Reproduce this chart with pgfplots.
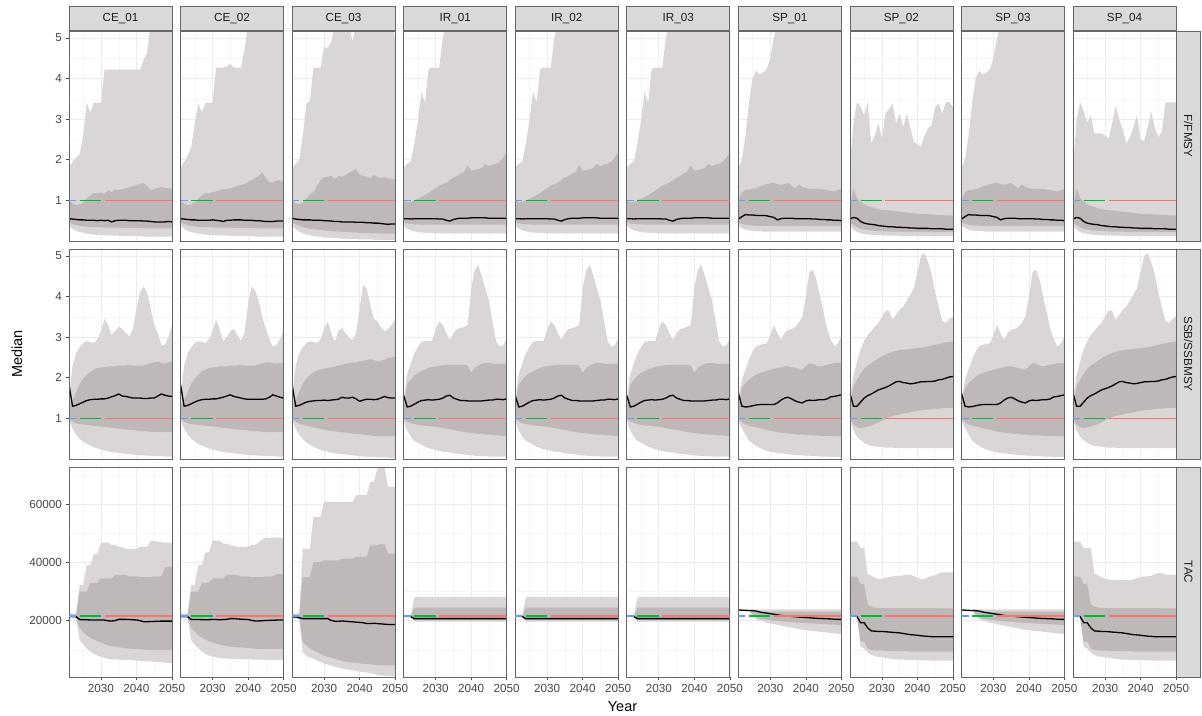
\documentclass[border=0pt]{standalone}
\usepackage{pgfplots}
\pgfplotsset{compat=1.18}
\usepackage{pgfplotstable}
\usepgfplotslibrary{fillbetween}
\usepackage{fontspec}
\setmainfont{Liberation Sans}

\definecolor{lightband}{RGB}{218,214,214}
\definecolor{darkband}{RGB}{191,184,184}
\definecolor{refred}{HTML}{F8766D}
\definecolor{refgreen}{HTML}{00BA38}
\definecolor{refblue}{HTML}{619CFF}
\definecolor{stripfill}{HTML}{D9D9D9}
\definecolor{frm}{HTML}{666666}

% ---------------- F/FMSY ----------------
\pgfplotstableread{
yr ol il md iu ou
2021 0.38 0.46 0.55 1.00 1.80
2022 0.30 0.42 0.54 0.92 1.95
2023 0.25 0.39 0.53 0.88 2.05
2024 0.22 0.37 0.52 0.90 2.14
2025 0.20 0.36 0.52 0.95 2.60
2026 0.18 0.35 0.51 1.05 3.41
2027 0.17 0.35 0.51 1.12 3.15
2028 0.16 0.34 0.51 1.18 3.40
2029 0.15 0.34 0.50 1.17 3.40
2030 0.15 0.34 0.51 1.20 3.40
2031 0.14 0.33 0.50 1.15 4.22
2032 0.14 0.33 0.51 1.25 4.22
2033 0.13 0.33 0.47 1.20 4.22
2034 0.13 0.33 0.50 1.27 4.22
2035 0.13 0.33 0.51 1.25 4.22
2036 0.12 0.32 0.51 1.28 4.22
2037 0.12 0.32 0.51 1.30 4.22
2038 0.12 0.32 0.50 1.32 4.22
2039 0.12 0.32 0.50 1.35 4.22
2040 0.12 0.32 0.50 1.38 4.22
2041 0.12 0.32 0.50 1.40 4.22
2042 0.11 0.32 0.49 1.43 4.45
2043 0.11 0.31 0.49 1.35 4.65
2044 0.11 0.31 0.48 1.25 5.34
2045 0.11 0.31 0.47 1.28 5.34
2046 0.11 0.31 0.47 1.30 5.34
2047 0.11 0.31 0.47 1.33 5.34
2048 0.11 0.31 0.47 1.30 5.34
2049 0.11 0.31 0.48 1.30 5.34
2050 0.11 0.31 0.47 1.28 5.34
}\FCEa
\pgfplotstableread{
yr ol il md iu ou
2021 0.38 0.46 0.55 1.00 1.80
2022 0.30 0.42 0.54 0.92 1.95
2023 0.25 0.39 0.53 0.88 2.10
2024 0.22 0.37 0.52 0.90 2.30
2025 0.20 0.36 0.52 0.95 2.90
2026 0.18 0.35 0.51 1.05 3.38
2027 0.17 0.35 0.51 1.12 3.17
2028 0.16 0.34 0.51 1.18 3.40
2029 0.15 0.34 0.51 1.17 3.40
2030 0.15 0.34 0.52 1.20 3.40
2031 0.14 0.33 0.51 1.22 4.27
2032 0.14 0.33 0.50 1.25 4.27
2033 0.13 0.33 0.48 1.28 4.27
2034 0.13 0.33 0.51 1.27 4.30
2035 0.13 0.33 0.51 1.30 4.36
2036 0.12 0.32 0.52 1.32 4.27
2037 0.12 0.32 0.52 1.35 4.27
2038 0.12 0.32 0.52 1.38 4.27
2039 0.12 0.32 0.51 1.40 4.70
2040 0.12 0.32 0.51 1.45 5.34
2041 0.12 0.32 0.51 1.50 5.34
2042 0.11 0.32 0.50 1.55 5.34
2043 0.11 0.31 0.50 1.60 5.34
2044 0.11 0.31 0.49 1.69 5.34
2045 0.11 0.31 0.48 1.55 5.34
2046 0.11 0.31 0.48 1.45 5.34
2047 0.11 0.31 0.48 1.43 5.34
2048 0.11 0.31 0.49 1.49 5.34
2049 0.11 0.31 0.49 1.49 5.34
2050 0.11 0.31 0.49 1.48 5.34
}\FCEb
\pgfplotstableread{
yr ol il md iu ou
2021 0.38 0.46 0.56 1.00 1.81
2022 0.29 0.41 0.54 0.92 1.90
2023 0.23 0.37 0.53 0.90 2.00
2024 0.19 0.34 0.52 0.95 2.60
2025 0.16 0.32 0.52 1.05 3.38
2026 0.14 0.30 0.52 1.15 3.45
2027 0.12 0.29 0.51 1.20 4.27
2028 0.11 0.28 0.51 1.35 4.27
2029 0.10 0.27 0.51 1.50 4.27
2030 0.09 0.26 0.50 1.56 4.78
2031 0.08 0.25 0.50 1.58 4.75
2032 0.08 0.25 0.49 1.60 4.90
2033 0.07 0.24 0.48 1.52 5.34
2034 0.07 0.23 0.48 1.60 5.34
2035 0.06 0.23 0.47 1.58 5.34
2036 0.06 0.22 0.47 1.62 5.10
2037 0.05 0.22 0.47 1.68 5.34
2038 0.05 0.21 0.47 1.72 4.90
2039 0.05 0.21 0.46 1.77 5.34
2040 0.04 0.20 0.46 1.64 5.34
2041 0.04 0.20 0.46 1.60 5.34
2042 0.04 0.20 0.45 1.58 5.34
2043 0.04 0.19 0.45 1.56 5.34
2044 0.03 0.19 0.44 1.62 5.34
2045 0.03 0.19 0.44 1.58 5.34
2046 0.03 0.18 0.43 1.55 5.34
2047 0.03 0.18 0.42 1.57 5.34
2048 0.03 0.18 0.41 1.54 5.34
2049 0.03 0.18 0.42 1.53 5.34
2050 0.03 0.18 0.42 1.52 5.00
}\FCEc
\pgfplotstableread{
yr ol il md iu ou
2021 0.38 0.46 0.55 1.00 1.81
2022 0.30 0.43 0.55 0.95 1.90
2023 0.26 0.42 0.54 0.96 1.96
2024 0.24 0.41 0.55 1.00 2.40
2025 0.22 0.41 0.55 1.04 2.96
2026 0.21 0.40 0.55 1.08 3.68
2027 0.20 0.40 0.55 1.13 3.40
2028 0.20 0.40 0.55 1.18 4.23
2029 0.20 0.40 0.55 1.24 4.27
2030 0.19 0.40 0.55 1.30 4.27
2031 0.19 0.40 0.54 1.36 4.27
2032 0.19 0.40 0.54 1.40 5.00
2033 0.19 0.40 0.51 1.43 5.34
2034 0.19 0.40 0.49 1.50 5.34
2035 0.19 0.40 0.53 1.56 5.34
2036 0.19 0.40 0.55 1.60 5.34
2037 0.19 0.40 0.56 1.66 5.34
2038 0.19 0.40 0.56 1.70 5.34
2039 0.19 0.40 0.56 1.86 5.34
2040 0.19 0.40 0.57 1.73 5.34
2041 0.19 0.40 0.57 1.75 5.34
2042 0.19 0.40 0.57 1.77 5.34
2043 0.19 0.40 0.57 1.80 5.34
2044 0.19 0.40 0.57 1.90 5.34
2045 0.19 0.40 0.56 1.84 5.34
2046 0.19 0.40 0.56 1.88 5.34
2047 0.19 0.40 0.56 1.90 5.34
2048 0.19 0.40 0.56 1.95 5.34
2049 0.19 0.40 0.56 2.05 5.34
2050 0.19 0.40 0.56 2.19 5.34
}\FIR
\pgfplotstableread{
yr ol il md iu ou
2021 0.38 0.45 0.54 1.00 1.81
2022 0.32 0.42 0.60 1.20 2.00
2023 0.28 0.40 0.65 1.25 2.60
2024 0.26 0.39 0.64 1.26 3.40
2025 0.25 0.38 0.64 1.28 4.00
2026 0.24 0.38 0.63 1.30 4.19
2027 0.24 0.37 0.63 1.35 4.10
2028 0.23 0.37 0.63 1.37 4.15
2029 0.23 0.37 0.62 1.40 4.23
2030 0.23 0.37 0.60 1.42 4.50
2031 0.23 0.37 0.58 1.43 5.00
2032 0.23 0.37 0.52 1.40 5.34
2033 0.23 0.37 0.55 1.38 5.34
2034 0.23 0.37 0.56 1.40 5.34
2035 0.23 0.37 0.56 1.43 5.34
2036 0.23 0.37 0.56 1.35 5.34
2037 0.23 0.37 0.55 1.30 5.34
2038 0.23 0.37 0.55 1.39 5.34
2039 0.23 0.37 0.55 1.33 5.34
2040 0.23 0.37 0.55 1.30 5.34
2041 0.23 0.37 0.55 1.28 5.34
2042 0.23 0.37 0.54 1.28 5.34
2043 0.23 0.37 0.54 1.28 5.34
2044 0.23 0.37 0.53 1.28 5.34
2045 0.23 0.37 0.53 1.27 5.34
2046 0.23 0.37 0.52 1.25 5.34
2047 0.23 0.37 0.52 1.24 5.34
2048 0.23 0.37 0.51 1.22 5.34
2049 0.23 0.37 0.51 1.25 5.34
2050 0.23 0.37 0.50 1.28 5.34
}\FSPa
\pgfplotstableread{
yr ol il md iu ou
2021 0.38 0.45 0.54 0.80 1.86
2022 0.28 0.40 0.58 1.30 2.90
2023 0.22 0.34 0.56 1.05 3.42
2024 0.19 0.30 0.48 0.97 3.30
2025 0.17 0.28 0.44 0.90 3.10
2026 0.16 0.27 0.42 0.86 3.42
2027 0.15 0.26 0.41 0.84 2.40
2028 0.15 0.25 0.40 0.80 2.60
2029 0.14 0.25 0.38 0.78 2.91
2030 0.14 0.24 0.37 0.77 2.53
2031 0.13 0.24 0.36 0.76 3.13
2032 0.13 0.23 0.35 0.75 3.25
2033 0.13 0.23 0.35 0.74 3.38
2034 0.13 0.23 0.34 0.73 2.90
2035 0.13 0.23 0.34 0.72 3.13
2036 0.12 0.22 0.33 0.71 2.80
2037 0.12 0.22 0.33 0.70 3.13
2038 0.12 0.22 0.32 0.69 2.80
2039 0.12 0.22 0.32 0.68 2.45
2040 0.12 0.22 0.31 0.67 2.38
2041 0.12 0.22 0.31 0.67 2.32
2042 0.12 0.22 0.31 0.66 2.60
2043 0.12 0.22 0.31 0.66 2.78
2044 0.12 0.22 0.30 0.65 2.85
2045 0.12 0.22 0.30 0.65 3.30
2046 0.12 0.22 0.30 0.64 3.38
2047 0.12 0.22 0.30 0.64 3.13
2048 0.12 0.22 0.29 0.63 3.42
2049 0.12 0.22 0.29 0.63 3.42
2050 0.12 0.22 0.29 0.63 3.30
}\FSPb
\pgfplotstableread{
yr ol il md iu ou
2021 0.38 0.45 0.54 0.80 1.80
2022 0.28 0.40 0.58 1.30 3.00
2023 0.22 0.34 0.56 1.05 3.41
2024 0.19 0.30 0.48 0.97 3.20
2025 0.17 0.28 0.44 0.90 2.90
2026 0.16 0.27 0.42 0.86 3.10
2027 0.15 0.26 0.41 0.84 2.65
2028 0.15 0.25 0.40 0.80 2.65
2029 0.14 0.25 0.38 0.78 2.65
2030 0.14 0.24 0.37 0.77 2.60
2031 0.13 0.24 0.36 0.76 2.52
2032 0.13 0.23 0.35 0.75 2.90
2033 0.13 0.23 0.35 0.74 3.33
2034 0.13 0.23 0.34 0.73 3.00
2035 0.13 0.23 0.34 0.72 2.75
2036 0.12 0.22 0.33 0.71 2.40
2037 0.12 0.22 0.33 0.70 2.55
2038 0.12 0.22 0.32 0.69 2.80
2039 0.12 0.22 0.32 0.68 3.10
2040 0.12 0.22 0.31 0.67 2.50
2041 0.12 0.22 0.31 0.67 2.45
2042 0.12 0.22 0.31 0.66 2.80
2043 0.12 0.22 0.31 0.66 3.20
2044 0.12 0.22 0.30 0.65 2.80
2045 0.12 0.22 0.30 0.65 2.55
2046 0.12 0.22 0.30 0.64 2.70
2047 0.12 0.22 0.30 0.64 3.41
2048 0.12 0.22 0.29 0.63 3.41
2049 0.12 0.22 0.29 0.63 3.41
2050 0.12 0.22 0.29 0.63 3.41
}\FSPd

% ---------------- SSB/SSBMSY ----------------
\pgfplotstableread{
yr ol il md iu ou
2021 0.95 1.00 1.83 1.30 1.50
2022 0.75 0.92 1.30 1.45 2.30
2023 0.60 0.88 1.32 1.65 2.60
2024 0.50 0.86 1.36 1.85 2.75
2025 0.43 0.85 1.40 1.98 2.85
2026 0.37 0.84 1.44 2.07 2.90
2027 0.33 0.83 1.46 2.15 2.88
2028 0.29 0.82 1.47 2.20 2.85
2029 0.26 0.81 1.47 2.24 2.95
2030 0.23 0.80 1.48 2.25 3.15
2031 0.21 0.79 1.48 2.26 3.45
2032 0.19 0.78 1.50 2.28 3.30
2033 0.17 0.77 1.53 2.28 3.05
2034 0.16 0.76 1.56 2.28 3.15
2035 0.15 0.75 1.60 2.30 3.25
2036 0.14 0.74 1.55 2.30 3.20
2037 0.13 0.73 1.54 2.30 3.10
2038 0.12 0.72 1.52 2.32 3.02
2039 0.11 0.71 1.50 2.30 3.20
2040 0.10 0.70 1.50 2.30 3.70
2041 0.09 0.69 1.50 2.30 4.10
2042 0.09 0.68 1.49 2.30 4.25
2043 0.08 0.68 1.49 2.33 4.10
2044 0.08 0.67 1.50 2.36 3.70
2045 0.07 0.67 1.50 2.38 3.30
2046 0.07 0.66 1.55 2.40 3.10
2047 0.07 0.66 1.60 2.36 2.81
2048 0.06 0.66 1.57 2.35 2.81
2049 0.06 0.66 1.55 2.38 3.00
2050 0.06 0.66 1.54 2.40 3.30
}\SCEa
\pgfplotstableread{
yr ol il md iu ou
2021 0.95 1.00 1.83 1.30 1.50
2022 0.75 0.92 1.30 1.45 2.30
2023 0.60 0.88 1.32 1.65 2.60
2024 0.50 0.86 1.36 1.85 2.75
2025 0.43 0.85 1.40 1.98 2.85
2026 0.37 0.84 1.44 2.07 2.90
2027 0.33 0.83 1.46 2.15 2.88
2028 0.29 0.82 1.47 2.20 2.85
2029 0.26 0.81 1.47 2.24 2.95
2030 0.23 0.80 1.48 2.25 3.15
2031 0.21 0.79 1.48 2.26 3.43
2032 0.19 0.78 1.50 2.28 3.20
2033 0.17 0.77 1.52 2.28 2.90
2034 0.16 0.76 1.55 2.28 3.00
2035 0.15 0.75 1.58 2.30 3.15
2036 0.14 0.74 1.54 2.30 3.20
2037 0.13 0.73 1.52 2.30 3.05
2038 0.12 0.72 1.50 2.32 2.90
2039 0.11 0.71 1.48 2.30 3.10
2040 0.10 0.70 1.47 2.30 3.80
2041 0.09 0.69 1.47 2.30 4.25
2042 0.09 0.68 1.47 2.30 4.15
2043 0.08 0.68 1.47 2.33 3.90
2044 0.08 0.67 1.47 2.36 3.50
2045 0.07 0.67 1.48 2.38 3.20
2046 0.07 0.66 1.52 2.38 2.95
2047 0.07 0.66 1.58 2.36 2.77
2048 0.06 0.66 1.55 2.35 2.80
2049 0.06 0.66 1.52 2.36 2.95
2050 0.06 0.66 1.50 2.38 3.18
}\SCEb
\pgfplotstableread{
yr ol il md iu ou
2021 0.95 1.00 1.83 1.30 1.50
2022 0.75 0.92 1.30 1.45 2.30
2023 0.60 0.87 1.32 1.65 2.60
2024 0.49 0.84 1.36 1.85 2.75
2025 0.41 0.82 1.40 1.98 2.85
2026 0.35 0.80 1.42 2.07 2.90
2027 0.30 0.78 1.43 2.13 2.88
2028 0.26 0.76 1.44 2.18 2.85
2029 0.23 0.74 1.44 2.20 2.95
2030 0.20 0.72 1.45 2.22 3.20
2031 0.18 0.70 1.44 2.24 3.39
2032 0.16 0.69 1.45 2.26 3.10
2033 0.14 0.68 1.46 2.28 2.89
2034 0.13 0.67 1.47 2.30 3.15
2035 0.12 0.66 1.52 2.32 3.22
2036 0.11 0.65 1.50 2.34 3.10
2037 0.10 0.64 1.50 2.36 3.00
2038 0.09 0.63 1.52 2.38 2.93
2039 0.08 0.62 1.48 2.38 3.10
2040 0.07 0.61 1.42 2.40 3.70
2041 0.06 0.60 1.45 2.42 4.29
2042 0.06 0.59 1.47 2.44 4.20
2043 0.05 0.58 1.47 2.46 3.80
2044 0.05 0.57 1.46 2.44 3.45
2045 0.04 0.57 1.47 2.40 3.39
2046 0.04 0.56 1.50 2.42 3.25
2047 0.04 0.56 1.54 2.44 3.14
2048 0.03 0.56 1.51 2.48 3.20
2049 0.03 0.56 1.50 2.50 3.30
2050 0.03 0.56 1.50 2.52 3.43
}\SCEc
\pgfplotstableread{
yr ol il md iu ou
2021 0.95 1.00 1.56 1.30 1.50
2022 0.70 0.92 1.28 1.83 2.10
2023 0.55 0.88 1.30 1.95 2.35
2024 0.45 0.86 1.35 2.05 2.60
2025 0.40 0.84 1.40 2.12 2.75
2026 0.35 0.83 1.44 2.16 2.89
2027 0.30 0.82 1.45 2.20 2.90
2028 0.27 0.81 1.46 2.24 2.90
2029 0.24 0.80 1.45 2.27 2.90
2030 0.22 0.79 1.46 2.28 3.20
2031 0.20 0.78 1.47 2.30 3.39
2032 0.18 0.76 1.50 2.31 3.30
2033 0.17 0.75 1.55 2.32 3.10
2034 0.16 0.73 1.57 2.32 2.93
2035 0.14 0.72 1.50 2.32 3.10
2036 0.13 0.70 1.47 2.32 3.20
2037 0.12 0.68 1.44 2.32 3.22
2038 0.11 0.66 1.44 2.32 3.25
2039 0.10 0.65 1.43 2.30 3.30
2040 0.09 0.64 1.43 2.12 4.20
2041 0.08 0.63 1.43 2.25 4.65
2042 0.07 0.62 1.43 2.30 4.78
2043 0.07 0.61 1.43 2.35 4.50
2044 0.07 0.60 1.44 2.36 4.20
2045 0.06 0.60 1.45 2.36 3.90
2046 0.06 0.59 1.45 2.35 3.40
2047 0.06 0.58 1.47 2.34 2.90
2048 0.06 0.58 1.47 2.34 2.77
2049 0.06 0.57 1.46 2.34 2.80
2050 0.06 0.57 1.48 2.34 2.97
}\SIR
\pgfplotstableread{
yr ol il md iu ou
2021 0.95 1.00 1.62 1.30 1.50
2022 0.75 0.90 1.30 1.75 1.95
2023 0.60 0.85 1.28 1.87 2.20
2024 0.45 0.82 1.29 1.95 2.45
2025 0.38 0.80 1.31 2.02 2.65
2026 0.32 0.78 1.33 2.08 2.78
2027 0.27 0.76 1.34 2.11 2.81
2028 0.23 0.74 1.34 2.14 2.83
2029 0.20 0.72 1.34 2.17 2.85
2030 0.18 0.70 1.34 2.20 3.05
2031 0.16 0.68 1.34 2.22 3.30
2032 0.15 0.66 1.38 2.24 3.10
2033 0.14 0.65 1.45 2.26 2.93
2034 0.13 0.64 1.50 2.28 3.10
2035 0.12 0.63 1.52 2.28 3.18
2036 0.11 0.62 1.48 2.26 3.20
2037 0.10 0.61 1.43 2.24 3.25
2038 0.09 0.60 1.40 2.22 3.35
2039 0.09 0.60 1.38 2.20 3.51
2040 0.08 0.59 1.43 2.28 4.00
2041 0.08 0.59 1.45 2.36 4.60
2042 0.07 0.58 1.44 2.34 4.66
2043 0.07 0.58 1.45 2.30 4.40
2044 0.06 0.57 1.46 2.28 4.00
2045 0.06 0.57 1.46 2.30 3.60
2046 0.06 0.57 1.48 2.32 3.20
2047 0.05 0.56 1.53 2.34 2.95
2048 0.05 0.56 1.54 2.36 2.77
2049 0.05 0.56 1.56 2.36 2.85
2050 0.05 0.56 1.58 2.36 3.02
}\SSPa
\pgfplotstableread{
yr ol il md iu ou
2021 0.95 1.00 1.62 1.30 1.50
2022 0.70 0.85 1.30 1.79 2.05
2023 0.55 0.78 1.30 1.95 2.40
2024 0.47 0.76 1.40 2.10 2.70
2025 0.40 0.78 1.50 2.22 2.90
2026 0.35 0.80 1.56 2.30 3.05
2027 0.32 0.83 1.60 2.36 3.15
2028 0.31 0.86 1.65 2.42 3.26
2029 0.30 0.90 1.70 2.48 3.35
2030 0.29 0.95 1.73 2.53 3.50
2031 0.28 0.99 1.76 2.57 3.65
2032 0.28 1.03 1.80 2.61 3.65
2033 0.28 1.06 1.85 2.64 3.43
2034 0.27 1.08 1.90 2.66 3.55
2035 0.27 1.10 1.91 2.68 3.67
2036 0.27 1.12 1.88 2.69 3.75
2037 0.27 1.13 1.87 2.70 3.90
2038 0.27 1.15 1.85 2.71 4.05
2039 0.27 1.17 1.86 2.72 4.20
2040 0.27 1.19 1.88 2.73 4.60
2041 0.27 1.20 1.90 2.74 5.00
2042 0.27 1.21 1.90 2.75 5.07
2043 0.27 1.22 1.91 2.77 4.85
2044 0.27 1.23 1.91 2.79 4.55
2045 0.27 1.24 1.92 2.81 4.10
2046 0.27 1.24 1.95 2.83 3.75
2047 0.27 1.25 1.96 2.85 3.40
2048 0.27 1.25 1.99 2.87 3.35
2049 0.27 1.26 2.02 2.88 3.45
2050 0.27 1.26 2.03 2.89 3.51
}\SSPb

% ---------------- TAC ----------------
\pgfplotstableread{
yr ol il md iu ou
2021 20800 21000 21600 22000 22500
2022 20800 21000 21600 22000 22500
2023 20800 21000 21400 22000 22500
2024 13300 17500 20400 30000 32300
2025 11800 16200 20300 30000 32300
2026 10500 15000 20300 30000 39100
2027 9400 14200 20250 33000 39100
2028 8500 13500 20250 33000 42900
2029 8000 13000 20250 33000 42900
2030 7600 12500 20250 34500 46800
2031 7200 12000 20200 34500 46800
2032 6900 11500 19950 34500 46800
2033 6700 11200 19900 34500 46000
2034 6700 11000 20000 35700 46000
2035 6600 10900 20450 35700 45300
2036 6500 10700 20450 35700 45300
2037 6500 10500 20450 35700 44600
2038 6500 10400 20400 35200 44600
2039 6400 10300 20300 35200 44600
2040 6300 10300 20250 35200 44600
2041 6200 10200 20000 35000 45400
2042 6100 10100 19650 35000 45400
2043 6000 10000 19650 35000 45400
2044 6000 9900 19700 35000 47400
2045 5900 9900 19750 35200 47400
2046 5800 9900 19800 35200 47200
2047 5700 9900 19850 35200 47000
2048 5600 9900 19850 38500 46800
2049 5500 9900 19850 38500 46800
2050 5500 9900 19850 38500 46800
}\TCEa
\pgfplotstableread{
yr ol il md iu ou
2021 20800 21000 21600 22000 22500
2022 20800 21000 21600 22000 22500
2023 20800 21000 21400 22000 22500
2024 13300 17500 20400 30000 32300
2025 11800 16200 20400 30000 32300
2026 10500 15000 20400 30000 39100
2027 9400 14200 20350 33000 39100
2028 8500 13500 20350 33000 43500
2029 8000 13000 20350 33000 43500
2030 7700 12500 20400 34500 47500
2031 7400 12100 20400 34500 47500
2032 7200 11800 20300 34500 47500
2033 7000 11500 20400 34500 46500
2034 7000 11300 20450 35700 46500
2035 6900 11100 20700 35700 45800
2036 6900 11000 20700 35700 45800
2037 6800 10900 20600 35700 45300
2038 6800 10800 20500 35200 45300
2039 6800 10700 20450 35200 45300
2040 6700 10600 20400 35200 45500
2041 6700 10500 20100 35000 46000
2042 6600 10400 19900 35000 46000
2043 6600 10300 19900 35000 47000
2044 6600 10300 20000 35000 48000
2045 6500 10200 20050 35200 48500
2046 6500 10200 20100 35200 48500
2047 6500 10200 20150 35200 48500
2048 6500 10200 20200 36000 48500
2049 6500 10200 20200 36000 48500
2050 6500 10200 20200 36000 48500
}\TCEb
\pgfplotstableread{
yr ol il md iu ou
2021 20800 21000 21300 22000 22500
2022 20800 21000 21300 22000 22500
2023 20600 20800 21000 22000 22500
2024 9000 12700 20700 35000 44700
2025 8000 11500 20700 35000 44700
2026 7300 10500 20700 35000 44700
2027 6900 9700 20700 40200 55600
2028 6300 9200 20700 40200 55600
2029 5800 8600 20700 40200 55600
2030 5300 8000 20700 40700 60800
2031 4900 7600 20700 40700 60800
2032 4600 7300 20100 40700 60800
2033 4200 7000 19800 40700 60800
2034 3900 6600 19800 40700 60800
2035 3600 6200 19900 41300 60800
2036 3300 5800 19800 41300 60800
2037 3100 5700 19700 41300 60800
2038 2900 5600 19600 41300 60800
2039 2700 5500 19500 41900 63100
2040 2500 5300 19400 41900 63100
2041 2350 5200 19300 41900 63100
2042 2200 5100 19000 41900 63100
2043 2000 5000 19000 45900 67700
2044 1700 4900 19100 45900 67700
2045 1400 4700 19000 45900 72200
2046 1200 4650 18900 46400 72800
2047 1100 4650 18800 46400 72800
2048 1000 4650 18700 43000 66000
2049 900 4650 18700 43000 66000
2050 800 4650 18700 43000 66000
}\TCEc
\pgfplotstableread{
yr ol il md iu ou
2021 21500 21500 21600 21700 21700
2022 21500 21500 21600 21700 21700
2023 21300 21300 21400 21700 21700
2024 19700 20100 20700 24500 28100
2030 19700 20100 20700 24500 28100
2040 19700 20100 20700 24500 28100
2050 19700 20100 20700 24500 28100
}\TIR
\pgfplotstableread{
yr ol il md iu ou
2021 23650 23650 23700 23750 23800
2022 23550 23550 23600 23650 23700
2023 23500 23500 23550 23600 23650
2024 23400 23450 23500 23550 23600
2025 21500 22300 23450 23500 23900
2026 20500 21200 23300 23100 23900
2027 20100 20700 23000 23100 23900
2028 19700 20500 22750 23100 23900
2029 19300 20300 22600 23100 23900
2030 19050 20150 22400 23100 23900
2031 18800 20000 22200 23100 23900
2032 18550 19900 22000 23100 23900
2033 18300 19800 21800 23100 23900
2034 18050 19700 21650 23100 23900
2035 17800 19600 21550 23100 23900
2036 17600 19500 21450 23100 23900
2037 17350 19400 21350 23100 23900
2038 17100 19300 21250 23100 23900
2039 16850 19250 21150 23100 23900
2040 16700 19200 21100 23100 23900
2041 16600 19100 21000 23100 23900
2042 16450 19050 20900 23100 23900
2043 16350 19000 20800 23100 23900
2044 16200 18900 20750 23100 23900
2045 16100 18850 20700 23100 23900
2046 15950 18800 20650 23000 23900
2047 15800 18700 20600 23000 23900
2048 15650 18650 20500 23000 23900
2049 15500 18550 20450 23000 23900
2050 15400 18500 20450 23000 23900
}\TSPa
\pgfplotstableread{
yr ol il md iu ou
2021 21600 21600 21600 35100 47200
2022 21600 21600 21600 35100 47200
2023 21200 21300 21400 35100 47200
2024 11000 12800 19300 32600 44900
2025 10500 12800 19300 32600 44900
2026 9000 10500 17500 25500 36000
2027 8300 9900 16500 24800 35400
2028 7700 9800 16400 24500 34800
2029 7600 9700 16300 24300 34300
2030 7400 9700 16300 24300 34300
2031 7200 9600 16200 24300 34800
2032 7000 9600 16100 24300 35000
2033 6800 9600 16000 24300 35200
2034 6700 9500 15900 24300 35400
2035 6600 9500 15800 24300 35400
2036 6600 9500 15600 24300 35600
2037 6500 9500 15400 24300 35800
2038 6500 9400 15200 24300 35800
2039 6500 9400 15100 24300 35300
2040 6400 9400 15000 24300 34700
2041 6400 9400 14800 24300 34300
2042 6400 9400 14700 24300 34300
2043 6300 9400 14600 24300 35000
2044 6300 9400 14500 24300 35400
2045 6300 9400 14500 24300 35600
2046 6300 9400 14500 24200 36200
2047 6250 9400 14500 24200 36600
2048 6250 9400 14500 24200 36600
2049 6250 9400 14500 24200 36600
2050 6250 9400 14500 24200 36600
}\TSPb
\pgfplotstableread{
yr ol il md iu ou
2021 21600 21600 21600 35100 47200
2022 21600 21600 21600 35100 47200
2023 21200 21300 21400 35100 47200
2024 11000 12800 19300 32600 44900
2025 10500 12800 19300 32600 44900
2026 9000 10500 17500 25500 44900
2027 8300 9900 16500 24800 36300
2028 7700 9800 16400 24500 35500
2029 7600 9700 16300 24300 34900
2030 7400 9700 16300 24300 34500
2031 7200 9600 16200 24300 34200
2032 7000 9600 16100 24300 34000
2033 6800 9600 16000 24300 33900
2034 6700 9500 15900 24300 33900
2035 6600 9500 15800 24300 33900
2036 6600 9500 15600 24300 33900
2037 6500 9500 15400 24300 33900
2038 6500 9400 15200 24300 34200
2039 6500 9400 15100 24300 34600
2040 6400 9400 15000 24300 35000
2041 6400 9400 14800 24300 35200
2042 6400 9400 14700 24300 35200
2043 6300 9400 14600 24300 35400
2044 6300 9400 14500 24300 36000
2045 6300 9400 14500 24300 36300
2046 6300 9400 14500 24200 36300
2047 6250 9400 14500 24200 35900
2048 6250 9400 14500 24200 35700
2049 6250 9400 14500 24200 35700
2050 6250 9400 14500 24200 35700
}\TSPd

\pgfplotsset{
  base/.style={
    set layers,
    scale only axis, width=103pt, height=210pt, anchor=south west,
    xmin=2021, xmax=2050,
    xtick={2030,2040,2050}, minor xtick={2025,2035,2045},
    grid=both,
    major grid style={draw=black!8, line width=0.6pt},
    minor grid style={draw=black!4, line width=0.35pt},
    tick pos=left, tick align=outside,
    major tick length=3.5pt, minor tick length=0pt,
    tick style={draw=black!70, line width=0.6pt},
    axis line style={draw=none},
    clip mode=individual,
    tick label style={font=\fontsize{11.7}{13}\selectfont, text=black!72},
    /pgf/number format/assume math mode=true,
    /pgf/number format/1000 sep={},
    scaled y ticks=false,
  },
  r1/.style={ymin=0, ymax=5.17, ytick={1,2,3,4,5}, minor ytick={0.5,1.5,2.5,3.5,4.5}},
  r2/.style={ymin=650, ymax=72800, ytick={20000,40000,60000}, minor ytick={10000,30000,50000,70000}},
  noy/.style={yticklabels={}, ytick style={draw=none}},
  nox/.style={xticklabels={}, xtick style={draw=none}},
}
\tikzset{
  topstrip/.style={draw=frm, fill=stripfill, line width=0.7pt, minimum width=103pt,
    minimum height=24pt, inner sep=0pt, anchor=south,
    font=\fontsize{11.7}{13}\selectfont, text=black!88},
  sidestrip/.style={draw=frm, fill=stripfill, line width=0.7pt, minimum width=210pt,
    minimum height=24pt, inner sep=0pt, rotate=-90, anchor=south,
    font=\fontsize{11.7}{13}\selectfont, text=black!88},
}

\newcommand{\drawpanel}[2]{%
  \addplot[draw=none, name path=ou] table[x=yr, y=ou] {#1};
  \addplot[draw=none, name path=ol] table[x=yr, y=ol] {#1};
  \addplot[draw=none, name path=iu] table[x=yr, y=iu] {#1};
  \addplot[draw=none, name path=il] table[x=yr, y=il] {#1};
  \addplot[fill=lightband, draw=none, on layer=pre main] fill between[of=ou and ol];
  \addplot[fill=darkband, draw=none, on layer=pre main] fill between[of=iu and il];
  \addplot[black, line width=1.3pt] table[x=yr, y=md] {#1};
  \addplot[refblue, line width=1.5pt, on layer=axis foreground] coordinates {(2021,#2) (2023,#2)};
  \addplot[refgreen, line width=1.5pt, on layer=axis foreground] coordinates {(2024,#2) (2030,#2)};
  \addplot[refred, line width=1.5pt, on layer=axis foreground] coordinates {(2031,#2) (2050,#2)};
  \draw[frm, line width=0.7pt] (rel axis cs:0,0) rectangle (rel axis cs:1,1);
}
% #1 column, #2 y of lower edge, #3 options, #4 table, #5 reference, #6 extra
\newcommand{\pnl}[6]{%
  \begin{axis}[base, at={(69pt+#1*111.56pt, #2pt)}, #3]
    \drawpanel{#4}{#5}
    #6
  \end{axis}}

\begin{document}
\begin{tikzpicture}
% Row 1: F/FMSY
\pnl{0}{474}{r1,nox}{\FCEa}{1}{\node[topstrip] at (rel axis cs:0.5,1) {CE\_01};}
\pnl{1}{474}{r1,nox,noy}{\FCEb}{1}{\node[topstrip] at (rel axis cs:0.5,1) {CE\_02};}
\pnl{2}{474}{r1,nox,noy}{\FCEc}{1}{\node[topstrip] at (rel axis cs:0.5,1) {CE\_03};}
\pnl{3}{474}{r1,nox,noy}{\FIR}{1}{\node[topstrip] at (rel axis cs:0.5,1) {IR\_01};}
\pnl{4}{474}{r1,nox,noy}{\FIR}{1}{\node[topstrip] at (rel axis cs:0.5,1) {IR\_02};}
\pnl{5}{474}{r1,nox,noy}{\FIR}{1}{\node[topstrip] at (rel axis cs:0.5,1) {IR\_03};}
\pnl{6}{474}{r1,nox,noy}{\FSPa}{1}{\node[topstrip] at (rel axis cs:0.5,1) {SP\_01};}
\pnl{7}{474}{r1,nox,noy}{\FSPb}{1}{\node[topstrip] at (rel axis cs:0.5,1) {SP\_02};}
\pnl{8}{474}{r1,nox,noy}{\FSPa}{1}{\node[topstrip] at (rel axis cs:0.5,1) {SP\_03};}
\pnl{9}{474}{r1,nox,noy}{\FSPd}{1}{\node[topstrip] at (rel axis cs:0.5,1) {SP\_04};
  \node[sidestrip] at (rel axis cs:1,0.5) {F/FMSY};}
% Row 2: SSB/SSBMSY
\pnl{0}{256}{r1,nox}{\SCEa}{1}{}
\pnl{1}{256}{r1,nox,noy}{\SCEb}{1}{}
\pnl{2}{256}{r1,nox,noy}{\SCEc}{1}{}
\pnl{3}{256}{r1,nox,noy}{\SIR}{1}{}
\pnl{4}{256}{r1,nox,noy}{\SIR}{1}{}
\pnl{5}{256}{r1,nox,noy}{\SIR}{1}{}
\pnl{6}{256}{r1,nox,noy}{\SSPa}{1}{}
\pnl{7}{256}{r1,nox,noy}{\SSPb}{1}{}
\pnl{8}{256}{r1,nox,noy}{\SSPa}{1}{}
\pnl{9}{256}{r1,nox,noy}{\SSPb}{1}{\node[sidestrip] at (rel axis cs:1,0.5) {SSB/SSBMSY};}
% Row 3: TAC
\pnl{0}{38}{r2}{\TCEa}{21600}{}
\pnl{1}{38}{r2,noy}{\TCEb}{21600}{}
\pnl{2}{38}{r2,noy}{\TCEc}{21600}{}
\pnl{3}{38}{r2,noy}{\TIR}{21600}{}
\pnl{4}{38}{r2,noy}{\TIR}{21600}{}
\pnl{5}{38}{r2,noy}{\TIR}{21600}{}
\pnl{6}{38}{r2,noy}{\TSPa}{21600}{}
\pnl{7}{38}{r2,noy}{\TSPb}{21600}{}
\pnl{8}{38}{r2,noy}{\TSPa}{21600}{}
\pnl{9}{38}{r2,noy}{\TSPd}{21600}{\node[sidestrip] at (rel axis cs:1,0.5) {TAC};}
% axis titles
\node[rotate=90, font=\fontsize{14.5}{16}\selectfont] at (17pt,361pt) {Median};
\node[anchor=base, font=\fontsize{14.5}{16}\selectfont] at (622.5pt,3pt) {Year};
\path (0pt,0pt) rectangle (1202pt,715pt);
\end{tikzpicture}
\end{document}
